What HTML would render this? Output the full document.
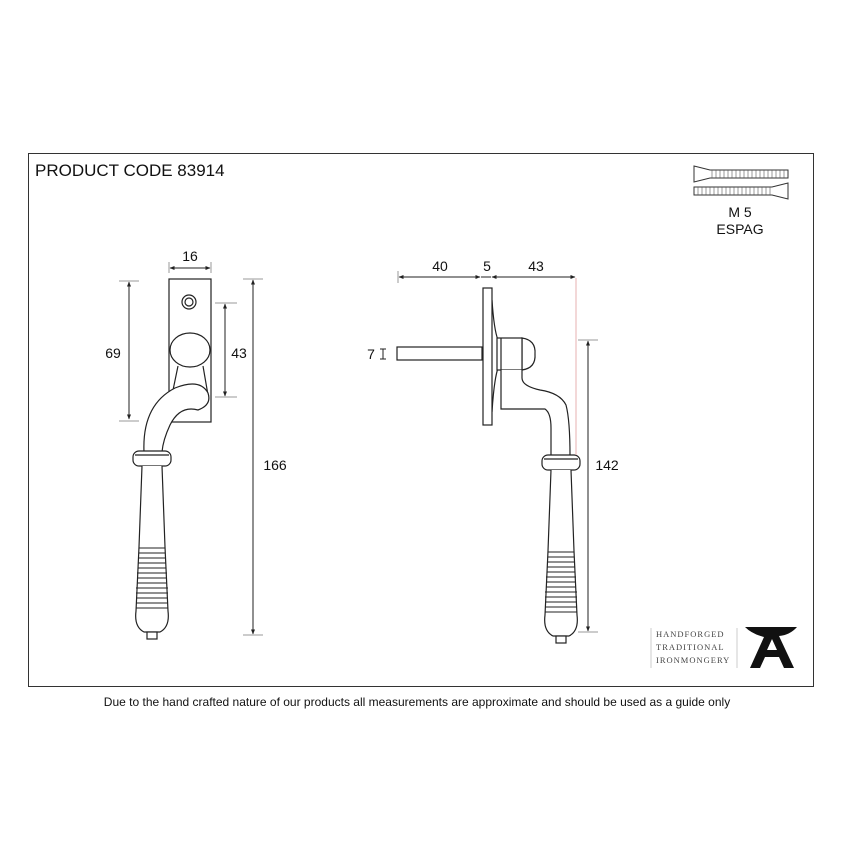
<!DOCTYPE html>
<html><head><meta charset="utf-8"><style>
html,body{margin:0;padding:0;background:#fff;}
svg{display:block;}
text{font-family:"Liberation Sans",Arial,sans-serif;fill:#111;}
</style></head><body>
<svg width="842" height="842" viewBox="0 0 842 842" xmlns="http://www.w3.org/2000/svg">
<defs>
<marker id="a" viewBox="0 0 10 10" refX="9" refY="5" markerWidth="5" markerHeight="5" orient="auto-start-reverse"><path d="M0,1 L10,5 L0,9 z" fill="#222"/></marker>
<g id="handle" fill="#fff" stroke="#222" stroke-width="1.2">
<rect x="-19" y="0" width="38" height="15" rx="6"/>
<line x1="-17" y1="4" x2="17" y2="4"/>
<path d="M-10,15 L-13,96 L-16,160 Q-18,176 -8,181 L8,181 Q18,176 16,160 L13,96 L10,15"/>
<rect x="-5" y="181" width="10" height="7"/>
<g stroke-width="1">
<path d="M-13,97 H13 M-13,102 H13 M-14,107 H14 M-14,112 H14 M-14,117 H14 M-15,122 H15 M-15,127 H15 M-15,132 H15 M-16,137 H16 M-16,142 H16 M-16,147 H16 M-16,152 H16 M-16,157 H16"/>
</g>
</g>
</defs>
<rect x="28.5" y="153.5" width="785" height="533" fill="none" stroke="#333" stroke-width="1"/>
<text x="35" y="176" font-size="17">PRODUCT CODE 83914</text>

<!-- screws -->
<g stroke="#333" stroke-width="1" fill="#fff">
<path d="M694,166 L710,170 L788,170 L788,178 L710,178 L694,182 z"/>
<path d="M788,183 L772,187 L694,187 L694,195 L772,195 L788,199 z"/>
</g>
<g stroke="#555" stroke-width="0.6">
<path d="M712,170 V178 M716,170 V178 M720,170 V178 M724,170 V178 M728,170 V178 M732,170 V178 M736,170 V178 M740,170 V178 M744,170 V178 M748,170 V178 M752,170 V178 M756,170 V178 M760,170 V178 M764,170 V178 M768,170 V178 M772,170 V178 M776,170 V178 M780,170 V178 M784,170 V178"/>
<path d="M698,187 V195 M702,187 V195 M706,187 V195 M710,187 V195 M714,187 V195 M718,187 V195 M722,187 V195 M726,187 V195 M730,187 V195 M734,187 V195 M738,187 V195 M742,187 V195 M746,187 V195 M750,187 V195 M754,187 V195 M758,187 V195 M762,187 V195 M766,187 V195 M770,187 V195"/>
</g>
<text x="740" y="217" font-size="14" text-anchor="middle">M 5</text>
<text x="740" y="234" font-size="14" text-anchor="middle">ESPAG</text>

<!-- LEFT VIEW -->
<g fill="#fff" stroke="#222" stroke-width="1.2">
<rect x="169" y="279" width="42" height="143"/>
<circle cx="189" cy="302" r="7"/><circle cx="189" cy="302" r="4"/>
<path d="M178,366 L172,395 M203,366 L208,395"/>
<ellipse cx="190" cy="350" rx="20" ry="17"/>
<path d="M144,452 Q142,405 175,388 Q200,378 208,393 Q212,405 198,410 Q180,405 170,425 Q163,440 162,452 z"/>
</g>
<use href="#handle" x="152" y="451"/>
<g stroke="#222" stroke-width="1" fill="none">
<line x1="170" y1="268" x2="210" y2="268" marker-start="url(#a)" marker-end="url(#a)"/>
<line x1="129" y1="282" x2="129" y2="419" marker-start="url(#a)" marker-end="url(#a)"/>
<line x1="225" y1="304" x2="225" y2="396" marker-start="url(#a)" marker-end="url(#a)"/>
<line x1="253" y1="280" x2="253" y2="634" marker-start="url(#a)" marker-end="url(#a)"/>
</g>
<g stroke="#999" stroke-width="1">
<line x1="119" y1="281" x2="139" y2="281"/><line x1="119" y1="421" x2="139" y2="421"/>
<line x1="215" y1="303" x2="237" y2="303"/><line x1="215" y1="397" x2="237" y2="397"/>
<line x1="243" y1="279" x2="263" y2="279"/><line x1="243" y1="635" x2="263" y2="635"/>
<line x1="169" y1="262" x2="169" y2="273"/><line x1="211" y1="262" x2="211" y2="273"/>
</g>
<text x="190" y="261" font-size="14" text-anchor="middle">16</text>
<text x="113" y="358" font-size="14" text-anchor="middle">69</text>
<text x="239" y="358" font-size="14" text-anchor="middle">43</text>
<text x="275" y="470" font-size="14" text-anchor="middle">166</text>

<!-- RIGHT VIEW -->
<g fill="#fff" stroke="#222" stroke-width="1.2">
<rect x="397" y="347" width="85" height="13"/>
<path d="M492,300 Q494,330 498,340 L498,368 Q494,380 492,412"/>
<rect x="483" y="288" width="9" height="137"/>
<path d="M522,338 Q536,340 535,354 Q536,368 522,370 z"/>
<rect x="497" y="338" width="25" height="32"/>
<line x1="501" y1="338" x2="501" y2="370"/>
<path d="M501,370 L501,409 L545,409 Q551,413 551,428 L551,456 L570,456 Q570,420 566,405 Q560,393 540,390 Q522,386 522,378 L522,370"/>
</g>
<use href="#handle" x="561" y="455"/>
<line x1="576" y1="278" x2="576" y2="455" stroke="#e7b0b0" stroke-width="1"/>
<g stroke="#222" stroke-width="1" fill="none">
<line x1="399" y1="277" x2="480" y2="277" marker-start="url(#a)" marker-end="url(#a)"/>
<line x1="481" y1="277" x2="491" y2="277"/>
<line x1="492" y1="277" x2="575" y2="277" marker-start="url(#a)" marker-end="url(#a)"/>
<line x1="588" y1="341" x2="588" y2="631" marker-start="url(#a)" marker-end="url(#a)"/>
<path d="M380,349 H386 M383,349 V359 M380,359 H386"/>
</g>
<g stroke="#999" stroke-width="1">
<line x1="398" y1="271" x2="398" y2="283"/>
<line x1="578" y1="340" x2="598" y2="340"/><line x1="578" y1="632" x2="598" y2="632"/>
</g>
<text x="440" y="271" font-size="14" text-anchor="middle">40</text>
<text x="487" y="271" font-size="14" text-anchor="middle">5</text>
<text x="536" y="271" font-size="14" text-anchor="middle">43</text>
<text x="371" y="359" font-size="14" text-anchor="middle">7</text>
<text x="607" y="470" font-size="14" text-anchor="middle">142</text>

<!-- logo -->
<line x1="651" y1="628" x2="651" y2="668" stroke="#ccc"/>
<line x1="737" y1="628" x2="737" y2="668" stroke="#ccc"/>
<g font-family="Liberation Serif,serif" font-size="8.5" fill="#444" letter-spacing="1">
<text x="656" y="637" style="font-family:'Liberation Serif',serif;fill:#444">HANDFORGED</text>
<text x="656" y="650" style="font-family:'Liberation Serif',serif;fill:#444">TRADITIONAL</text>
<text x="656" y="663" style="font-family:'Liberation Serif',serif;fill:#444">IRONMONGERY</text>
</g>
<path d="M745,627 L797,627 Q790,635 779,636 L794,668 L784,668 L779,657 L765,657 L760,668 L750,668 L764,637 Q752,634 745,627 z M767,650 L777,650 L772,639 z" fill="#111"/>

<text x="417" y="706" font-size="12" text-anchor="middle">Due to the hand crafted nature of our products all measurements are approximate and should be used as a guide only</text>
</svg>
</body></html>
